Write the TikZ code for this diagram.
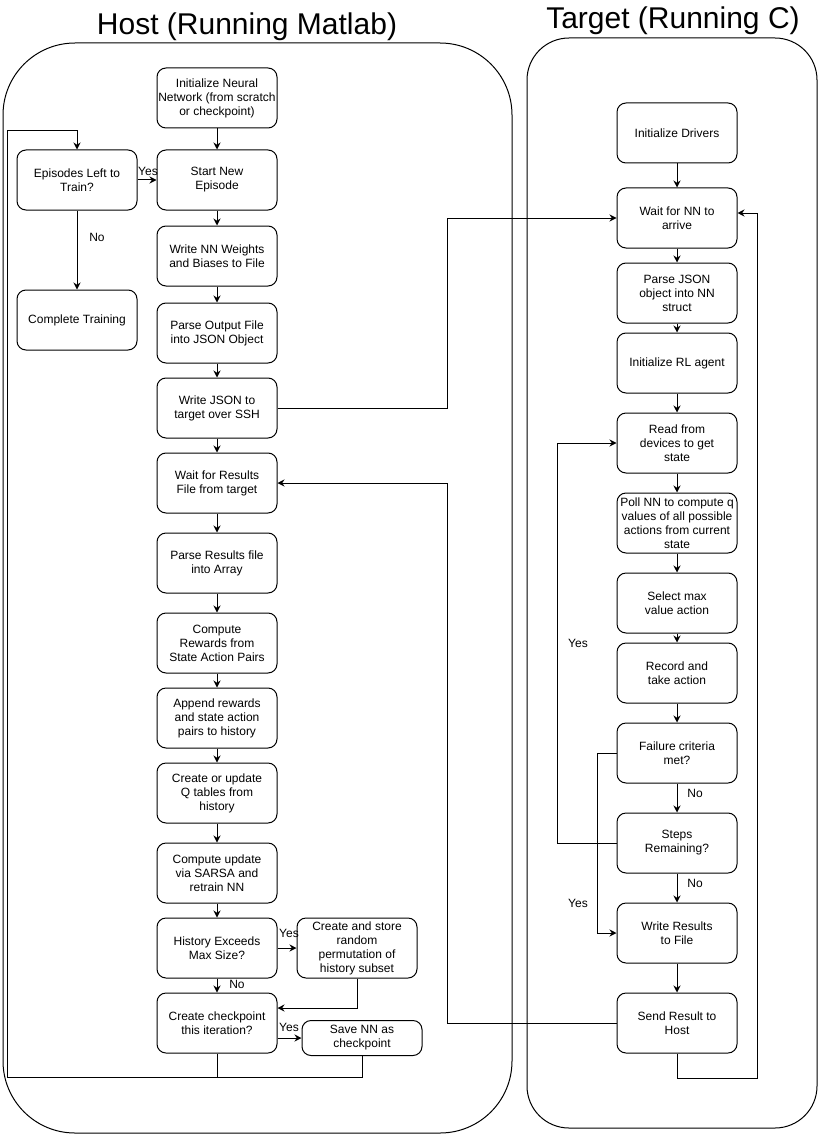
\documentclass[tikz,border=0pt]{standalone}
\usepackage{fontspec}
\setmainfont{Liberation Sans}
\usetikzlibrary{arrows.meta}
\begin{document}
\begin{tikzpicture}[x=1pt,y=-1pt,
  box/.style={draw, line width=1pt, rounded corners=9pt, minimum width=120pt, minimum height=60pt,
    align=center, font=\fontsize{12}{14}\selectfont, inner sep=1pt},
  lbl/.style={font=\fontsize{12}{14}\selectfont, inner sep=0pt},
  ttl/.style={font=\fontsize{30}{34}\selectfont, inner sep=0pt},
  line/.style={line width=1pt},
  arr/.style={line width=1pt, -{Stealth[length=7pt,width=7pt]}},
  lane/.style={draw, line width=1pt}]
\useasboundingbox (0,0) rectangle (818,1134);
% containers
\draw[lane, rounded corners=72pt] (3,43) rectangle (512,1133);
\draw[lane, rounded corners=42pt] (527,38) rectangle (817,1128);
\node[ttl] (thost) at (247,27) {Host (Running Matlab)};
\node[ttl] (ttarget) at (673,21) {Target (Running C)};
% host nodes
\node[box] (initNN) at (217,98) {Initialize Neural\\Network (from scratch\\or checkpoint)};
\node[box] (start) at (217,180) {Start New\\Episode};
\node[box] (episodes) at (77,180) {Episodes Left to\\Train?};
\node[box] (complete) at (77,320) {Complete Training};
\node[box] (writeNN) at (217,256) {Write NN Weights\\and Biases to File};
\node[box] (parseOut) at (217,333) {Parse Output File\\into JSON Object};
\node[box] (writeJSON) at (217,408) {Write JSON to\\target over SSH};
\node[box] (waitRes) at (217,483) {Wait for Results\\File from target};
\node[box] (parseRes) at (217,563) {Parse Results file\\into Array};
\node[box] (rewards) at (217,643) {Compute\\Rewards from\\State Action Pairs};
\node[box] (append) at (217,718) {Append rewards\\and state action\\pairs to history};
\node[box] (qtab) at (217,793) {Create or update\\Q tables from\\history};
\node[box] (update) at (217,873) {Compute update\\via SARSA and\\retrain NN};
\node[box] (hist) at (217,948) {History Exceeds\\Max Size?};
\node[box] (store) at (357,948) {Create and store\\random\\permutation of\\history subset};
\node[box] (ckpt) at (217,1023) {Create checkpoint\\this iteration?};
\node[box, minimum height=35pt] (save) at (362,1038) {Save NN as\\checkpoint};
% target nodes
\node[box] (drivers) at (677,133) {Initialize Drivers};
\node[box] (waitNN) at (677,218) {Wait for NN to\\arrive};
\node[box] (parseJSON) at (677,293) {Parse JSON\\object into NN\\struct};
\node[box] (initRL) at (677,363) {Initialize RL agent};
\node[box] (read) at (677,443) {Read from\\devices to get\\state};
\node[box] (poll) at (677,523) {Poll NN to compute q\\values of all possible\\actions from current\\state};
\node[box] (select) at (677,603) {Select max\\value action};
\node[box] (record) at (677,673) {Record and\\take action};
\node[box] (fail) at (677,753) {Failure criteria\\met?};
\node[box] (steps) at (677,843) {Steps\\Remaining?};
\node[box] (writeRes) at (677,933) {Write Results\\to File};
\node[box] (send) at (677,1023) {Send Result to\\Host};
% coordinates
\coordinate (lb) at (7,1077);
\coordinate (lt) at (7,131);
\coordinate (j1) at (447,0);
\coordinate (c1) at (357,1008);
\coordinate (r1) at (757,1078);
\coordinate (r2) at (757,213);
\coordinate (s1) at (557,0);
\coordinate (f1) at (597,0);
% host connectors
\draw[arr] (initNN) -- (start);
\draw[arr] (episodes) -- (start);
\draw[arr] (episodes) -- (complete);
\draw[arr] (start) -- (writeNN);
\draw[arr] (writeNN) -- (parseOut);
\draw[arr] (parseOut) -- (writeJSON);
\draw[arr] (writeJSON) -- (waitRes);
\draw[arr] (waitRes) -- (parseRes);
\draw[arr] (parseRes) -- (rewards);
\draw[arr] (rewards) -- (append);
\draw[arr] (append) -- (qtab);
\draw[arr] (qtab) -- (update);
\draw[arr] (update) -- (hist);
\draw[arr] (hist) -- (store);
\draw[arr] (hist) -- (ckpt);
\draw[arr] (store.south) -- (c1) -- (c1 -| ckpt.east);
\draw[arr] (ckpt.east |- save.west) -- (save.west);
\draw[line] (ckpt.south) -- (ckpt.south |- lb);
\draw[arr] (save.south) |- (lb) -- (lt) -| (episodes.north);
\draw[arr] (writeJSON.east) -| (j1 |- waitNN.west) -- (waitNN.west);
\draw[arr] (send.west) -- (j1 |- send.west) -- (j1 |- waitRes.east) -- (waitRes.east);
% target connectors
\draw[arr] (drivers) -- (waitNN);
\draw[arr] (waitNN) -- (parseJSON);
\draw[arr] (parseJSON) -- (initRL);
\draw[arr] (initRL) -- (read);
\draw[arr] (read) -- (poll);
\draw[arr] (poll) -- (select);
\draw[arr] (select) -- (record);
\draw[arr] (record) -- (fail);
\draw[arr] (fail) -- (steps);
\draw[arr] (steps) -- (writeRes);
\draw[arr] (writeRes) -- (send);
\draw[arr] (send.south) |- (r1) -- (r2) -- (waitNN.east |- r2);
\draw[arr] (steps.west) -- (s1 |- steps.west) -- (s1 |- read.west) -- (read.west);
\draw[arr] (fail.west) -- (f1 |- fail.west) -- (f1 |- writeRes.west) -- (writeRes.west);
% labels
\node[lbl] (lyes1) at (148,171) {Yes};
\node[lbl] (lno1) at (97,237) {No};
\node[lbl] (lyes2) at (289,933) {Yes};
\node[lbl] (lno2) at (237,984) {No};
\node[lbl] (lyes3) at (289,1027) {Yes};
\node[lbl] (lyes4) at (578,643) {Yes};
\node[lbl] (lyes5) at (578,903) {Yes};
\node[lbl] (lno3) at (695,793) {No};
\node[lbl] (lno4) at (695,883) {No};
\end{tikzpicture}
\end{document}
